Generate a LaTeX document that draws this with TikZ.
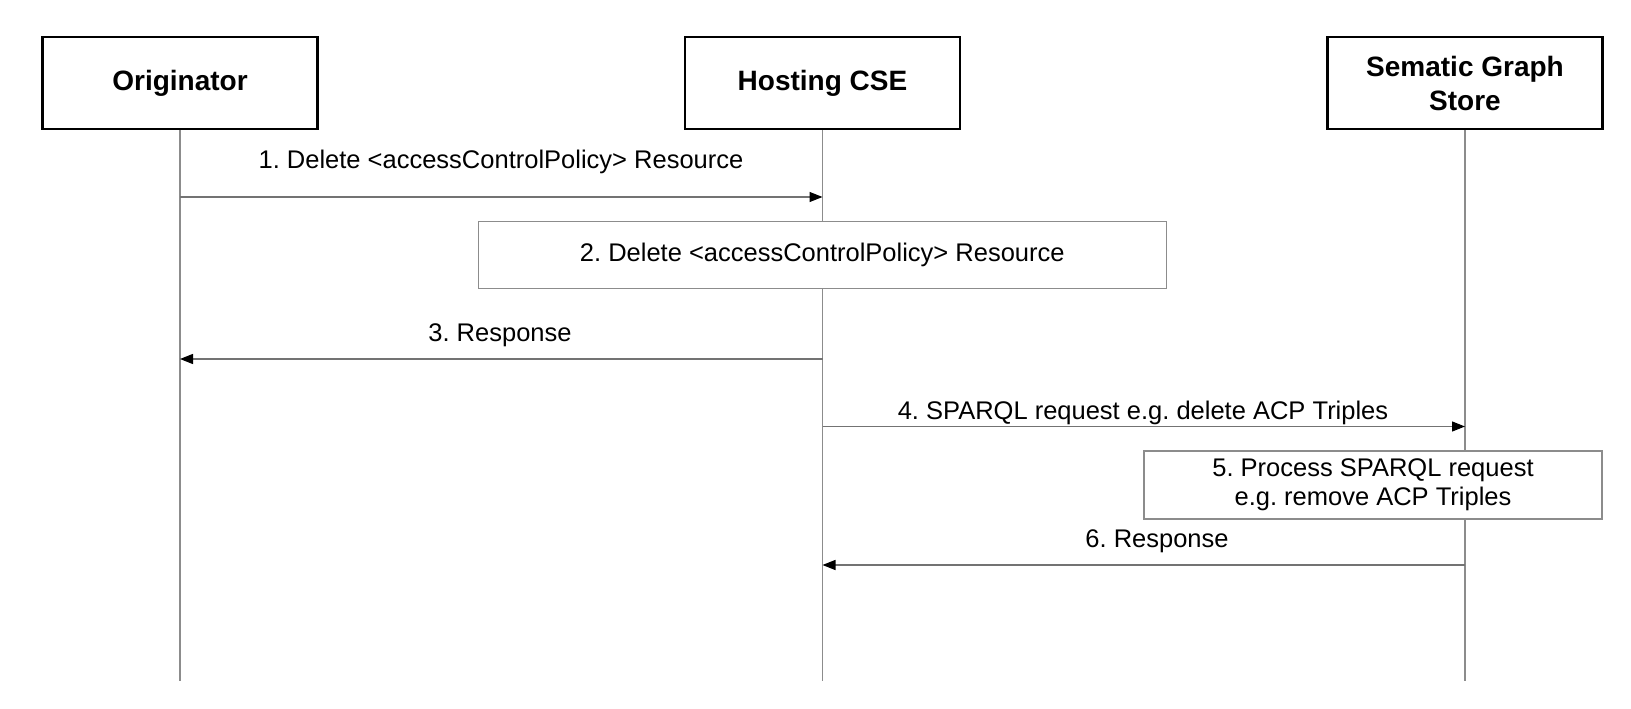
\documentclass[tikz,border=0pt]{standalone}
\usepackage{fontspec}
\setmainfont{Liberation Sans}
\usetikzlibrary{arrows.meta}
\frenchspacing
\begin{document}
\begin{tikzpicture}[x=1pt,y=-1pt,
  actor/.style={draw=black, line width=2.2pt, fill=white, minimum width=275pt, minimum height=92pt,
    font=\fontsize{28}{33.5}\selectfont\bfseries, align=center, inner sep=0pt},
  lifeline/.style={draw=black!45, line width=1.2pt},
  msg/.style={draw=black!55, line width=1.2pt, -{Triangle[length=13pt,width=10pt,color=black,fill=black]}},
  action/.style={draw=black!45, line width=1.1pt, fill=white, align=center, inner sep=0pt,
    font=\fontsize{25.5}{29}\selectfont},
  lbl/.style={font=\fontsize{25.5}{29}\selectfont, inner sep=0pt}]
\useasboundingbox (0,0) rectangle (1631,709);
\fill[white] (0,0) rectangle (1631,709);
% actors
\node[actor] (orig) at (180,83.3) {Originator};
\node[actor] (host) at (822.5,83.3) {Hosting CSE};
\node[actor] (sgs) at (1465,83.3) {Sematic Graph\\Store};
% lifeline ends
\coordinate (origEnd) at (orig.south |- 0,681);
\coordinate (hostEnd) at (host.south |- 0,681);
\coordinate (sgsEnd) at (sgs.south |- 0,681);
\draw[lifeline] (orig.south) -- (origEnd);
\draw[lifeline] (host.south) -- (hostEnd);
\draw[lifeline] (sgs.south) -- (sgsEnd);
% 1
\draw[msg] (orig.south |- 0,197) -- (host.south |- 0,197);
\node[lbl] (l1) at (501,162) {1. Delete <accessControlPolicy> Resource};
% 2
\node[action, minimum width=687.5pt, minimum height=66.5pt] (a2) at (822.3,254.8) {2. Delete <accessControlPolicy> Resource};
% 3
\draw[msg] (host.south |- 0,359) -- (orig.south |- 0,359);
\node[lbl] (l3) at (500,335) {3. Response};
% 4
\draw[msg] (host.south |- 0,426.5) -- (sgs.south |- 0,426.5);
\node[lbl] (l4) at (1143,413) {4. SPARQL request e.g. delete ACP Triples};
% 5
\node[action, minimum width=458pt, minimum height=68pt] (a5) at (1373,485) {5. Process SPARQL request\\e.g. remove ACP Triples};
% 6
\draw[msg] (sgs.south |- 0,565) -- (host.south |- 0,565);
\node[lbl] (l6) at (1157,541) {6. Response};
\end{tikzpicture}
\end{document}
